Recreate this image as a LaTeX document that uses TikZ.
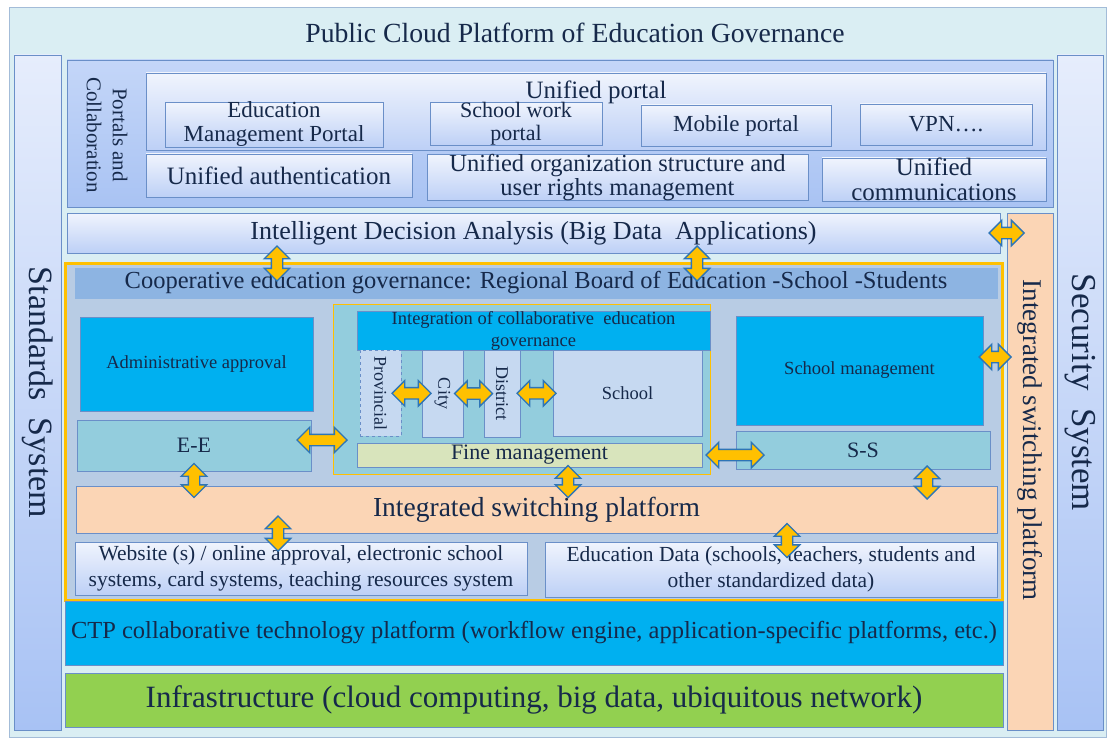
\documentclass[tikz,border=0pt]{standalone}
\usepackage{fontspec}
\setmainfont{Liberation Serif}
\usetikzlibrary{positioning, calc, shapes.arrows}

\definecolor{bgblue}{HTML}{DAEEF3}
\definecolor{bgedge}{HTML}{A3BCD8}
\definecolor{edgeblue}{HTML}{6A8FC8}
\definecolor{navy}{HTML}{16294A}
\definecolor{coltop}{HTML}{E6EDFC}
\definecolor{colbot}{HTML}{A8C2F4}
\definecolor{porttop}{HTML}{C4D6F8}
\definecolor{portbot}{HTML}{A9C3F3}
\definecolor{paletop}{HTML}{F0F4FD}
\definecolor{palebot}{HTML}{BDD0F6}
\definecolor{framefill}{HTML}{B8CCE4}
\definecolor{headfill}{HTML}{8DB4E2}
\definecolor{cyanfill}{HTML}{00B0F0}
\definecolor{tealfill}{HTML}{93CDDD}
\definecolor{lightfill}{HTML}{C6D9F1}
\definecolor{finefill}{HTML}{D8E4BC}
\definecolor{peach}{HTML}{FBD5B5}
\definecolor{grass}{HTML}{92D050}
\definecolor{gold}{HTML}{FFC000}
\definecolor{arrline}{HTML}{2E75B6}

\tikzset{
    area/.style n args={4}{minimum width={#3-#1}, minimum height={#4-#2}, at={({(#1+#3)/2},{(#2+#4)/2})}}, % box from its two corners
    box/.style={draw=edgeblue, line width=0.9pt, inner sep=0pt, align=center, text=navy}, % every block
    pale/.style={box, top color=paletop, bottom color=palebot},
    col/.style={box, top color=coltop, bottom color=colbot},
    cyanbox/.style={box, fill=cyanfill},
    tealbox/.style={box, fill=tealfill},
    lightbox/.style={box, fill=lightfill},
    peachbox/.style={box, fill=peach},
    txt/.style={text=navy, inner sep=0pt, align=center},
    harr/.style={double arrow, draw=arrline, fill=gold, line width=1.4pt, inner xsep=0pt, inner ysep=5pt,
        double arrow head extend=7pt, double arrow tip angle=90}, % the yellow two-way arrows
    varr/.style={harr, rotate=90},
}

\begin{document}
\begin{tikzpicture}[x=1pt, y=-1pt]
    \useasboundingbox (0,0) rectangle (1107,738);

    % background and side columns
    \node[fill=bgblue, draw=bgedge, line width=0.9pt, inner sep=0pt, area={9}{7}{1106}{737}] (bg) {};
    \node[txt, font=\fontsize{27.7}{30}\selectfont] (title) at (575,33) {Public Cloud Platform of Education Governance};
    \node[col, area={14}{55}{61}{730}] (std) {};
    \node[txt, rotate=-90, font=\fontsize{34}{36}\selectfont] (stdtext) at (std) {Standards\ \ System};
    \node[col, area={1057}{55}{1103}{730}] (sec) {};
    \node[txt, rotate=-90, font=\fontsize{35}{36}\selectfont] (sectext) at (sec) {Security\ \ System};

    % portals and collaboration
    \node[box, top color=porttop, bottom color=portbot, area={67}{60}{1053}{207}] (portals) {};
    \node[txt, rotate=-90, font=\fontsize{21}{26}\selectfont] (portalstext) at (107,135) {Portals and\\Collaboration};
    \node[pale, area={146}{73}{1046}{150}] (uniportal) {};
    \node[txt, anchor=north, font=\fontsize{25}{26}\selectfont] (uniportaltext) at ([yshift=-8]uniportal.north) {Unified portal};
    \node[pale, area={165}{103}{383}{146}, font=\fontsize{23}{24}\selectfont] (eduportal) {Education\\Management Portal};
    \node[pale, area={430}{104}{602}{144}, font=\fontsize{22}{23}\selectfont] (schportal) {School work\\portal};
    \node[pale, area={641}{105}{831}{146}, font=\fontsize{23}{24}\selectfont] (mobportal) {Mobile portal};
    \node[pale, area={860}{104}{1032}{145}, font=\fontsize{23}{24}\selectfont] (vpn) {VPN….};
    \node[pale, area={146}{154}{412}{197}, font=\fontsize{25}{26}\selectfont] (auth) {Unified authentication};
    \node[pale, area={427}{156}{808}{199}, font=\fontsize{24.5}{24}\selectfont] (org) {Unified organization structure and\\user rights management};
    \node[pale, area={822}{158}{1046}{201}, font=\fontsize{25}{25}\selectfont] (comm) {Unified\\communications};

    % decision analysis and the switching column
    \node[pale, area={67}{213}{1000}{253}, font=\fontsize{26}{28}\selectfont] (ida) {Intelligent Decision Analysis (Big Data\ \ Applications)};
    \node[peachbox, area={1007}{213}{1053}{730}] (swcol) {};
    \node[txt, rotate=-90, font=\fontsize{27}{30}\selectfont] (swcoltext) at (1030,440) {Integrated switching platform};

    % cooperative governance frame
    \node[fill=framefill, draw=gold, line width=3pt, inner sep=0pt, area={65}{263}{1002}{600}] (frame) {};
    \node[box, fill=headfill, draw=headfill, area={75}{268}{997}{298}, font=\fontsize{24.5}{26}\selectfont] (coop) {Cooperative education governance: Regional Board of Education -School -Students};
    \node[cyanbox, area={80}{317}{313}{411}, font=\fontsize{18.5}{20}\selectfont] (admin) {Administrative approval};
    \node[tealbox, area={77}{420}{311}{471}, font=\fontsize{22}{24}\selectfont] (ee) {E-E};
    \node[box, fill=tealfill, draw=gold, area={333}{304}{710}{474}] (integ) {};
    \node[cyanbox, area={357}{311}{710}{350}, font=\fontsize{18.5}{22}\selectfont] (integhead) {Integration of collaborative\ \ education\\governance};
    \node[lightbox, dashed, area={360}{350}{401}{436}] (prov) {};
    \node[txt, rotate=-90, font=\fontsize{18}{20}\selectfont] (provtext) at (prov) {Provincial};
    \node[lightbox, area={422}{350}{463}{437}] (city) {};
    \node[txt, rotate=-90, font=\fontsize{18}{20}\selectfont] (citytext) at (city) {City};
    \node[lightbox, area={484}{350}{520}{437}] (dist) {};
    \node[txt, rotate=-90, font=\fontsize{18}{20}\selectfont] (disttext) at (dist) {District};
    \node[lightbox, area={553}{350}{702}{436}, font=\fontsize{18.5}{20}\selectfont] (school) {School};
    \node[box, fill=finefill, area={357}{443}{702}{467}, font=\fontsize{22}{24}\selectfont] (fine) {Fine management};
    \node[cyanbox, area={736}{316}{983}{425}, font=\fontsize{18.5}{20}\selectfont] (schmgmt) {School management};
    \node[tealbox, area={736}{431}{990}{469}, font=\fontsize{22}{24}\selectfont] (ss) {S-S};
    \node[peachbox, area={76}{486}{997}{533}, font=\fontsize{27.5}{30}\selectfont] (swrow) {Integrated switching platform};
    \node[pale, area={75}{542}{527}{595}, font=\fontsize{21.5}{26}\selectfont] (web) {Website (s) / online approval, electronic school\\systems, card systems, teaching resources system};
    \node[pale, area={545}{542}{997}{597}, font=\fontsize{21.5}{26}\selectfont] (edudata) {Education Data (schools, teachers, students and\\other standardized data)};

    % technology and infrastructure
    \node[cyanbox, area={65}{601}{1003}{665}, font=\fontsize{24.5}{26}\selectfont] (ctp) {CTP collaborative technology platform (workflow engine, application-specific platforms, etc.)};
    \node[box, fill=grass, area={65}{673}{1003}{727}, font=\fontsize{31}{33}\selectfont] (infra) {Infrastructure (cloud computing, big data, ubiquitous network)};

    % two-way arrows
    \node[varr, minimum height=35pt] (a1) at ($(ida.south -| 277,0)!.5!(coop.north -| 277,0) + (0,3)$) {};
    \node[varr, minimum height=35pt] (a2) at ($(ida.south -| 697,0)!.5!(coop.north -| 697,0) + (0,3)$) {};
    \node[harr, minimum height=35pt] (a3) at ($(ida.east)!.5!(swcol.west |- ida.east) + (3,0)$) {};
    \node[harr, minimum height=32pt] (a4) at ($(schmgmt.east |- 0,357)!.5!(swcol.west |- 0,357)$) {};
    \node[harr, minimum height=50pt] (a5) at ($(ee.east |- 0,440)!.5!(integ.west |- 0,440)$) {};
    \node[harr, minimum height=39pt] (a6) at ($(prov.east)!.5!(city.west)$) {};
    \node[harr, minimum height=38pt] (a7) at ($(city.east)!.5!(dist.west)$) {};
    \node[harr, minimum height=39pt] (a8) at ($(dist.east)!.5!(school.west)$) {};
    \node[harr, minimum height=58pt] (a9) at ($(fine.east)!.5!(ss.west |- fine.east) + (16,0)$) {};
    \node[varr, minimum height=34pt] (a10) at ($(ee.south)!.5!(swrow.north -| ee.south) + (0,2)$) {};
    \node[varr, minimum height=32pt] (a11) at ($(fine.south -| 568,0)!.5!(swrow.north -| 568,0) + (0,5)$) {};
    \node[varr, minimum height=33pt] (a12) at ($(ss.south -| 927,0)!.5!(swrow.north -| 927,0) + (0,5)$) {};
    \node[varr, minimum height=35pt] (a13) at ($(swrow.south -| 278,0)!.5!(web.north -| 278,0) + (0,-4)$) {};
    \node[varr, minimum height=34pt] (a14) at ($(swrow.south -| 787,0)!.5!(edudata.north -| 787,0) + (0,3)$) {};
\end{tikzpicture}
\end{document}
